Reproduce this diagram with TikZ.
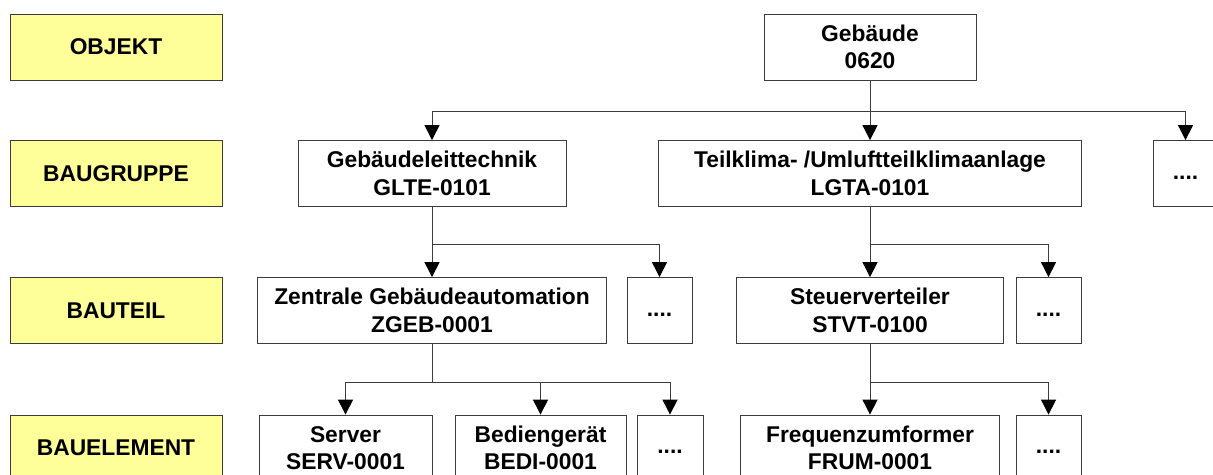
\documentclass[tikz,border=0pt]{standalone}
\usepackage{fontspec}
\setmainfont{Liberation Sans}
\usepackage{xcolor}
\usetikzlibrary{arrows.meta, positioning, calc}
\definecolor{tieryellow}{RGB}{255,255,153}
\definecolor{framegray}{RGB}{60,60,60}

\begin{document}
\begin{tikzpicture}[x=0.5pt, y=-0.5pt, % one unit = one pixel of the sheet
    every node/.style={font=\fontsize{11.4}{13.8}\selectfont\bfseries, inner sep=0pt, align=center},
    tierbox/.style={draw=framegray, fill=tieryellow, minimum width=106pt, minimum height=33pt},
    partbox/.style={draw=framegray, fill=white, minimum height=33pt},
    morebox/.style={partbox, minimum width=32.5pt, text height=9.7pt, text depth=4.1pt},
    link/.style={framegray, line width=0.5pt},
    arr/.style={link, -{Triangle[width=7.5pt,length=7.5pt,black]}}]
                \useasboundingbox (0,0) rectangle (1213,475);
                \clip (0,0) rectangle (1213,475);

                % levels on the left
                \node[tierbox] (objekt) at (116,47) {OBJEKT};
                \node[tierbox] (baugruppe) at (116,173.5) {BAUGRUPPE};
                \node[tierbox] (bauteil) at (116,310.5) {BAUTEIL};
                \node[tierbox] (bauelement) at (116,448) {BAUELEMENT};

                % tree
                \node[partbox, minimum width=106pt] (gebaeude) at (870,47) {Gebäude\\0620};
                \node[partbox, minimum width=134pt] (glte) at (432,173.5) {Gebäudeleittechnik\\GLTE-0101};
                \node[partbox, minimum width=211.5pt] (lgta) at (870,173.5) {Teilklima- /Umluftteilklimaanlage\\LGTA-0101};
                \node[morebox] (more1) at (1185.5,173.5) {....};
                \node[partbox, minimum width=174.5pt] (zgeb) at (432,310.5) {Zentrale Gebäudeautomation\\ZGEB-0001};
                \node[morebox] (more2) at (659.5,310.5) {....};
                \node[partbox, minimum width=133.5pt] (stvt) at (870,310.5) {Steuerverteiler\\STVT-0100};
                \node[morebox] (more3) at (1048.5,310.5) {....};
                \node[partbox, minimum width=86.5pt] (serv) at (345.5,448) {Server\\SERV-0001};
                \node[partbox, minimum width=85.5pt] (bedi) at (540.5,448) {Bediengerät\\BEDI-0001};
                \node[morebox, minimum width=33pt] (more4) at (670,448) {....};
                \node[partbox, minimum width=129.5pt] (frum) at (870,448) {Frequenzumformer\\FRUM-0001};
                \node[morebox] (more5) at (1048.5,448) {....};

                \coordinate (j0) at (870,112);
                \coordinate (j1) at (432,245);
                \coordinate (j2) at (870,245);
                \coordinate (j3) at (432,382);
                \coordinate (j4) at (870,382);

                \draw[arr] (gebaeude) -- (lgta);
                \draw[arr] (j0) -| (glte.north);
                \draw[arr] (j0) -| (more1.north);
                \draw[arr] (glte) -- (zgeb);
                \draw[arr] (j1) -| (more2.north);
                \draw[arr] (lgta) -- (stvt);
                \draw[arr] (j2) -| (more3.north);
                \draw[link] (zgeb.south) -- (j3);
                \draw[arr] (j3) -| (serv.north);
                \draw[arr] (j3) -| (bedi.north);
                \draw[arr] (j3) -| (more4.north);
                \draw[arr] (stvt) -- (frum);
                \draw[arr] (j4) -| (more5.north);
            \end{tikzpicture}
\end{document}
